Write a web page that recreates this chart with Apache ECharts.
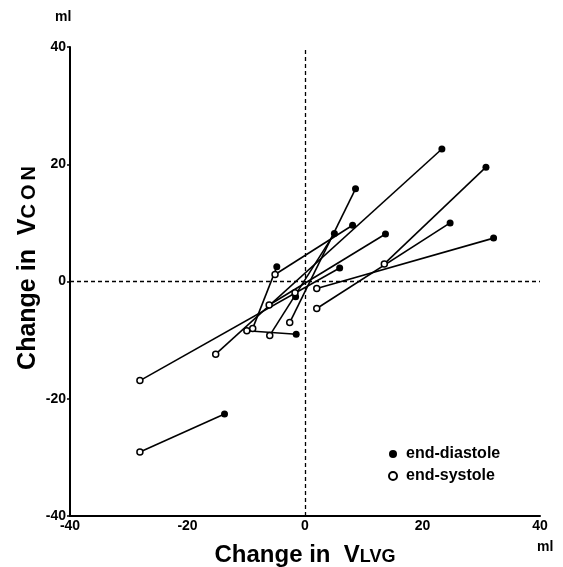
<!DOCTYPE html>
<html><head><meta charset="utf-8">
<script src="https://cdn.jsdelivr.net/npm/echarts/dist/echarts.min.js"></script>
<style>html,body{margin:0;padding:0;background:#fff}#c{width:563px;height:567px}</style>
</head><body><div id="c"></div>
<script>
// Each subject: end-systole (open) point joined to its end-diastole (filled) point
const systoleX  = [-28.1, -28.1, -15.2, -9.9, -6.0, -2.6, -8.9, -5.1, -6.1, -1.7,  2.0,  2.0, 13.5];
const systoleY  = [-29.1, -16.9, -12.4, -8.4, -9.2, -7.0, -8.0,  1.2, -4.0, -1.9, -1.2, -4.6,  3.0];
const diastoleX = [-13.7,   5.9,  23.3, -1.5,  5.0,  8.6, -4.8,  8.1, 13.7, -1.6, 32.1, 24.7, 30.8];
const diastoleY = [-22.6,   2.3,  22.6, -9.0,  8.2, 15.8,  2.5,  9.6,  8.1, -2.6,  7.4, 10.0, 19.5];
const axisTicks = [-40, -20, 0, 20, 40];
const legendNames = ['end-diastole', 'end-systole'];

const FONT = '"Liberation Sans", Arial, sans-serif';
const chart = echarts.init(document.getElementById('c'), null, {renderer: 'canvas'});

const segSeries = systoleX.map((x, i) => ({
  type: 'line', silent: true, symbol: 'none', z: 2,
  lineStyle: {color: '#000', width: 1.6},
  data: [[x, systoleY[i]], [diastoleX[i], diastoleY[i]]]
}));

const axisCommon = {
  type: 'value', min: axisTicks[0], max: axisTicks[axisTicks.length - 1], interval: 20,
  splitLine: {show: false},
  axisLine: {show: true, onZero: false, lineStyle: {color: '#000', width: 2}},
  axisTick: {show: true, length: 3, lineStyle: {color: '#000', width: 1.5}},
  axisLabel: {color: '#000', fontFamily: FONT, fontWeight: 'bold', fontSize: 14}
};

const titleRich = {
  a: {fontFamily: FONT, fontWeight: 'bold', fontSize: 24, color: '#000'},
  b: {fontFamily: FONT, fontWeight: 'bold', fontSize: 18, color: '#000', verticalAlign: 'bottom', padding: [0,0,1,0]}
};

chart.setOption({
  animation: false,
  backgroundColor: '#fff',
  grid: {left: 70, right: 23, top: 47, bottom: 51, containLabel: false, outerBoundsMode: 'none'},
  xAxis: Object.assign({}, axisCommon, {
    axisLabel: Object.assign({}, axisCommon.axisLabel, {margin: 3}),
    axisTick: {show: false},
    name: '{a|Change in  V}{b|LVG}', nameLocation: 'middle', nameGap: 27,
    nameTextStyle: {rich: titleRich}
  }),
  yAxis: Object.assign({}, axisCommon, {
    axisLabel: Object.assign({}, axisCommon.axisLabel, {margin: 4})
  }),
  legend: {
    orient: 'vertical', left: 383, top: 441, itemGap: 6, itemWidth: 8, itemHeight: 8,
    data: legendNames.map(n => ({name: n, icon: 'circle'})),
    textStyle: {fontFamily: FONT, fontWeight: 'bold', fontSize: 16, color: '#000', padding: [0,0,0,4]}
  },
  graphic: [
    {type: 'text', left: 55, top: 10, style: {text: 'ml', font: 'bold 14px ' + FONT, fill: '#000'}},
    {type: 'text', left: 537, top: 540, style: {text: 'ml', font: 'bold 14px ' + FONT, fill: '#000'}},
    {type: 'text', x: 28, y: 268, rotation: Math.PI / 2,
     style: {text: '{a|Change in  V}{b|C\u2009O\u2009N}', align: 'center', verticalAlign: 'middle',
       rich: {
         a: {fontFamily: FONT, fontWeight: 'bold', fontSize: 25, fill: '#000'},
         b: {fontFamily: FONT, fontWeight: 'bold', fontSize: 20, fill: '#000', verticalAlign: 'bottom', padding: [0,0,1,0]}
       }}}
  ],
  series: segSeries.concat([
    {
      name: legendNames[0], type: 'scatter', symbol: 'circle', symbolSize: 7, z: 4,
      itemStyle: {color: '#000', borderColor: '#000', borderWidth: 0, opacity: 1},
      data: diastoleX.map((x, i) => [x, diastoleY[i]]),
      markLine: {
        silent: true, symbol: ['none', 'none'], label: {show: false},
        lineStyle: {color: '#000', width: 1.3, type: [4, 3]},
        data: [{xAxis: 0}, {yAxis: 0}]
      }
    },
    {
      name: legendNames[1], type: 'scatter', symbol: 'circle', symbolSize: 6, z: 4,
      itemStyle: {color: '#fff', borderColor: '#000', borderWidth: 1.5, opacity: 1},
      data: systoleX.map((x, i) => [x, systoleY[i]])
    }
  ])
});
</script>
</body></html>
